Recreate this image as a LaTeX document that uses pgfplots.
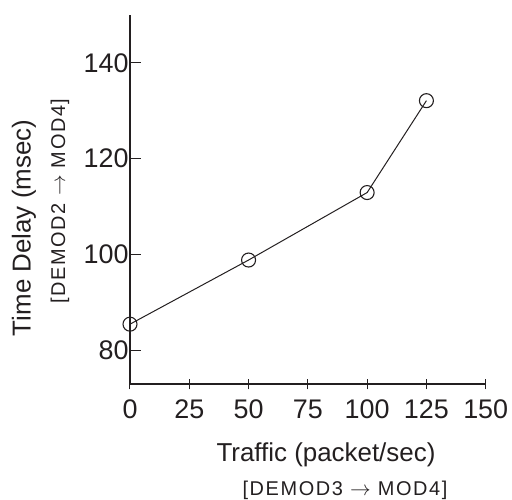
\documentclass[border=0pt]{standalone}
\usepackage{pgfplots}
\pgfplotsset{compat=1.18}
\usepackage{fontspec}
\setmainfont{Liberation Sans}
\definecolor{ink}{HTML}{231F20}
\begin{document}
\begin{tikzpicture}
\useasboundingbox (-130bp,-116bp) rectangle (382bp,384bp);
\begin{axis}[
  at={(0,0)}, anchor=south west,
  scale only axis, width=355.7bp, height=369bp,
  xmin=0, xmax=150, ymin=72.9, ymax=150,
  axis x line*=bottom, axis y line*=left,
  axis line style={ink, line width=1.2bp, -},
  xtick={0,25,50,75,100,125,150},
  ytick={80,100,120,140},
  x tick style={ink, line width=1bp}, y tick style={ink, line width=1bp},
  xtick align=center, ytick align=inside,
  major tick length=11bp,
  tick label style={font=\fontsize{27}{31}\selectfont, text=ink},
  /pgf/number format/assume math mode=true,
  xticklabel style={yshift=-7bp},
  yticklabel style={xshift=2bp},
  clip=false,
]
\addplot[ink, line width=1bp, mark=o, mark size=7bp, mark options={line width=1.1bp}]
  coordinates {(0,85.4) (50,98.8) (100,112.9) (125,132.1)};
\end{axis}
\node[text=ink, font=\fontsize{26}{30}\selectfont] at (196bp,-71bp) {Traffic (packet/sec)};
\node[text=ink, font=\fontsize{20}{24}\selectfont\addfontfeatures{LetterSpace=8}] at (215bp,-106bp) {[DEMOD3 $\rightarrow$ MOD4]};
\node[text=ink, rotate=90, font=\fontsize{26}{30}\selectfont] at (-106bp,156bp) {Time Delay (msec)};
\node[text=ink, rotate=90, font=\fontsize{20}{24}\selectfont\addfontfeatures{LetterSpace=8}] at (-70bp,183bp) {[DEMOD2 $\rightarrow$ MOD4]};
\end{tikzpicture}
\end{document}
